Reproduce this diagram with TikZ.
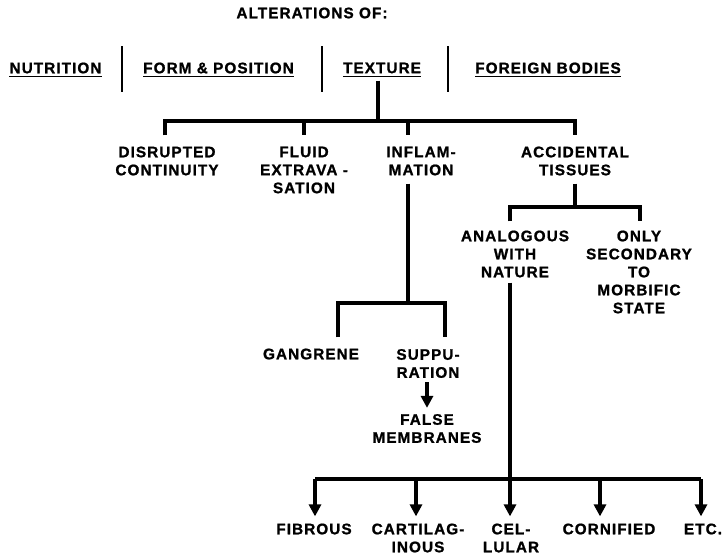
\documentclass[tikz,border=0pt]{standalone}
\usepackage{fontspec}
\setmainfont{Liberation Sans}
\newfontfamily\letterfont{Liberation Sans Bold}[LetterSpace=7, FakeBold=1.2]
\usetikzlibrary{arrows.meta}

\begin{document}
\begin{tikzpicture}[x=1pt,y=-1pt,
  lbl/.style={font=\letterfont\fontsize{15.3}{18}\selectfont, align=center, inner sep=0pt},
  conn/.style={line width=3.2pt},
  arrowdown/.style={-{Triangle[width=12pt,length=12pt]}}]
  \useasboundingbox (0,0) rectangle (725,557);

  % Draw title and headings
  \node[lbl] (title) at (312,13) {ALTERATIONS OF:};
  \node[lbl] (nut) at (55.5,68) {NUTRITION};
  \node[lbl] (frm) at (218.5,68) {FORM \& POSITION};
  \node[lbl] (tex) at (382,68) {TEXTURE};
  \node[lbl] (frn) at (548,68) {FOREIGN BODIES};

  % Underline headings
  \foreach \n in {nut,frm,tex,frn}
    \draw[line width=1.6pt] ([yshift=-3pt]\n.south west) -- ([yshift=-3pt]\n.south east);

  % Separators between headings
  \foreach \x in {122,322,448}
    \draw[line width=1.5pt] (\x,46) -- (\x,92);

  % Second level
  \node[lbl] (dis) at (167,161) {DISRUPTED\\CONTINUITY};
  \node[lbl] (flu) at (304,170) {FLUID\\EXTRAVA -\\SATION};
  \node[lbl] (inf) at (421,161) {INFLAM-\\MATION};
  \node[lbl] (acc) at (575,161) {ACCIDENTAL\\TISSUES};

  \coordinate (tex-j) at (378,121);
  \coordinate (dis-j) at (165,121);
  \coordinate (flu-j) at (304,121);
  \coordinate (inf-j) at (408,121);
  \coordinate (acc-j) at (575,121);

  \draw[conn] ([yshift=-7pt]tex-j |- tex.south) -- (tex-j); % stem
  \draw[conn] ([yshift=11pt]dis-j |- dis.north) -- (dis-j) -- (acc-j) -- ([yshift=11pt]acc-j |- acc.north); % bar
  \foreach \n in {flu,inf}
    \draw[conn] (\n-j) -- ([yshift=11pt]\n-j |- dis.north); % drop

  % Inflammation branch
  \node[lbl] (gan) at (311,354) {GANGRENE};
  \node[lbl] (sup) at (428,363.5) {SUPPU-\\RATION};
  \node[lbl] (fal) at (427,428.5) {FALSE\\MEMBRANES};

  \coordinate (inf-b) at (408,303);
  \coordinate (gan-j) at (338,303);
  \coordinate (sup-j) at (445,303);

  \draw[conn] ([yshift=-8pt]inf-b |- inf.south) -- (inf-b);
  \draw[conn] ([yshift=11pt]gan-j |- gan.north) -- (gan-j) -- (sup-j) -- ([yshift=11pt]sup-j |- gan.north);
  \draw[conn,arrowdown] ([yshift=-4pt]fal.north |- sup.south) -- ([yshift=6pt]fal.north);

  % Accidental tissues branch
  \node[lbl] (ana) at (515,254) {ANALOGOUS\\WITH\\NATURE};
  \node[lbl] (onl) at (639,272) {ONLY\\SECONDARY\\TO\\MORBIFIC\\STATE};

  \coordinate (acc-b) at (575,207);
  \coordinate (ana-j) at (510,207);
  \coordinate (onl-j) at (640,207);

  \draw[conn] ([yshift=-8pt]acc-b |- acc.south) -- (acc-b);
  \draw[conn] ([yshift=9pt]ana-j |- ana.north) -- (ana-j) -- (onl-j) -- ([yshift=9pt]onl-j |- ana.north);

  % Kinds of analogous tissue
  \node[lbl] (fib) at (314,529) {FIBROUS};
  \node[lbl] (car) at (418,538) {CARTILAG-\\INOUS};
  \node[lbl] (cel) at (511,538) {CEL-\\LULAR};
  \node[lbl] (cor) at (609,529) {CORNIFIED};
  \node[lbl] (etc) at (703,529) {ETC.};

  \coordinate (ana-b) at (510,479);
  \coordinate (fib-j) at (315,479);
  \coordinate (car-j) at (416,479);
  \coordinate (cel-j) at (510,479);
  \coordinate (cor-j) at (600,479);
  \coordinate (etc-j) at (701,479);

  \draw[conn] ([yshift=-5pt]ana-b |- ana.south) -- (ana-b);
  \draw[conn] (fib-j) -- (etc-j);
  \foreach \n in {fib,car,cel,cor,etc}
    \draw[conn,arrowdown] (\n-j) -- ([yshift=7pt]\n-j |- fib.north); % arrow

\end{tikzpicture}
\end{document}
